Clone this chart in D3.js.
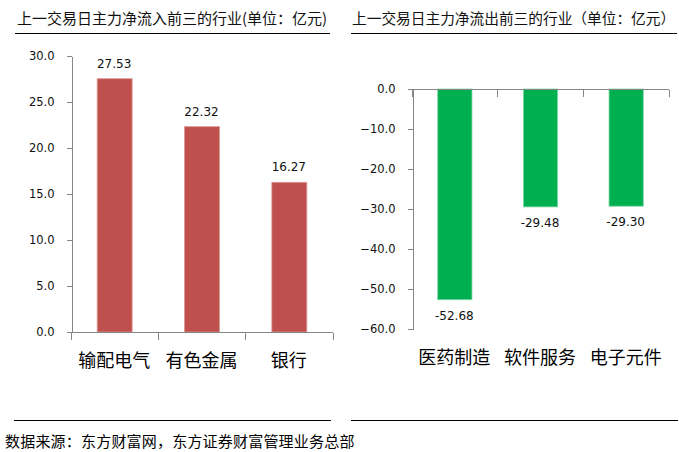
<!DOCTYPE html>
<html><head><meta charset="utf-8">
<script src="https://cdn.jsdelivr.net/npm/d3@7"></script>
<style>
body{margin:0;background:#fff;}
svg{display:block;}
.cjk{font-family:"Noto Sans CJK SC","Noto Sans",sans-serif;}
.num{font-family:"DejaVu Sans",Verdana,sans-serif;}
</style></head>
<body>
<svg id="c" width="679" height="452"></svg>
<script>
const inCats = ["输配电气","有色金属","银行"];
const inVals = [27.53, 22.32, 16.27];
const inTicks = [0,5,10,15,20,25,30];
const outCats = ["医药制造","软件服务","电子元件"];
const outVals = [-52.68, -29.48, -29.30];
const outTicks = [0,-10,-20,-30,-40,-50,-60];
const titleIn = "上一交易日主力净流入前三的行业(单位：亿元)";
const titleOut = "上一交易日主力净流出前三的行业（单位：亿元）";
const source = "数据来源：东方财富网，东方证券财富管理业务总部";

const svg = d3.select("#c");
const axisColor = "#868686";
const fmt = d3.format(".1f");

// titles and rules
svg.append("text").attr("class","cjk").attr("x",17).attr("y",24).attr("font-size",15).attr("fill","#111").text(titleIn);
svg.append("text").attr("class","cjk").attr("x",352).attr("y",24).attr("font-size",14.7).attr("fill","#111").text(titleOut);
[[15,330,33.5],[351,677,33.5],[14,331,420.5],[351,678,420.5]].forEach(([a,b,y])=>{
  svg.append("line").attr("x1",a).attr("x2",b).attr("y1",y).attr("y2",y).attr("stroke","#000").attr("stroke-width",1.2);
});
svg.append("text").attr("class","cjk").attr("x",5).attr("y",443).attr("dominant-baseline","middle").attr("font-size",15).attr("letter-spacing",0.2).attr("fill","#000").text(source);

function drawChart(cats, vals, ticks, xr, yDom, yr, axisY, color, strokeCol, labelPos, catY){
  const x = d3.scaleBand().domain(cats).range(xr).paddingInner(0.6).paddingOuter(0.3);
  const y = d3.scaleLinear().domain(yDom).range(yr);
  const g = svg.append("g");
  const off = (x.step()-x.bandwidth())/2;
  // bars
  g.selectAll("rect").data(vals).enter().append("rect")
    .attr("x",(d,i)=>x(cats[i])+0.5)
    .attr("y",d=>Math.min(y(d),y(0)))
    .attr("width",x.bandwidth())
    .attr("height",d=>Math.abs(y(d)-y(0)))
    .attr("fill",color).attr("stroke",strokeCol).attr("stroke-width",0.8);
  // y axis
  const ya = d3.axisLeft(y).tickValues(ticks).tickSize(5).tickSizeOuter(0).tickFormat(fmt).tickPadding(12);
  const yg = g.append("g").attr("transform",`translate(${Math.round(xr[0])+0.5},0)`).call(ya);
  yg.selectAll("path,line").attr("stroke",axisColor).attr("shape-rendering","crispEdges");
  yg.selectAll("text").attr("class","num").attr("font-size",11.5).attr("fill","#111").attr("font-family",null);
  // x axis
  const ay = Math.round(axisY)+0.5;
  g.append("line").attr("x1",xr[0]).attr("x2",xr[1]).attr("y1",ay).attr("y2",ay).attr("stroke",axisColor).attr("shape-rendering","crispEdges");
  const bounds = cats.map(c=>x(c)-off).concat([x(cats[cats.length-1])+x.bandwidth()+off]);
  g.selectAll("line.xt").data(bounds).enter().append("line").attr("class","xt")
    .attr("x1",d=>Math.round(d)+0.5).attr("x2",d=>Math.round(d)+0.5)
    .attr("y1",ay).attr("y2",ay+7).attr("stroke",axisColor).attr("shape-rendering","crispEdges");
  // value labels
  g.selectAll("text.v").data(vals).enter().append("text").attr("class","v num")
    .attr("x",(d,i)=>x(cats[i])+x.bandwidth()/2)
    .attr("y",d=>y(d)+labelPos).attr("text-anchor","middle").attr("dominant-baseline","middle")
    .attr("font-size",12).attr("fill","#111").text(d=>d.toFixed(2));
  // category labels
  g.selectAll("text.c").data(cats).enter().append("text").attr("class","c cjk")
    .attr("x",d=>x(d)+x.bandwidth()/2).attr("y",catY)
    .attr("text-anchor","middle").attr("dominant-baseline","middle")
    .attr("font-size",18).attr("fill","#000").text(d=>d);
}

drawChart(inCats,inVals,inTicks,[70.5,332.5],[0,30],[332,56],332,"#C0504D","#d99694",-14.5,362);
drawChart(outCats,outVals,outTicks,[411.5,668.5],[-60,0],[329,89],89,"#00B050","#7fd8a7",16.5,359);
</script>
</body></html>
